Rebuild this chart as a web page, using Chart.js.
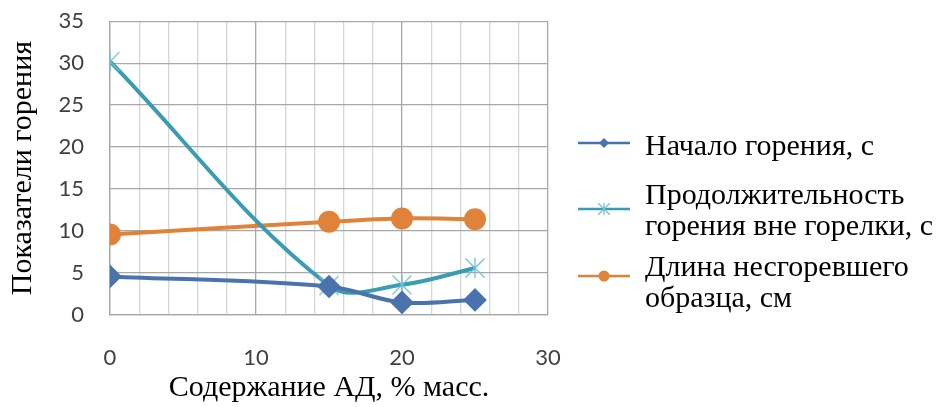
<!DOCTYPE html>
<html>
<head>
<meta charset="utf-8">
<script src="https://cdn.jsdelivr.net/npm/chart.js@4.4.1/dist/chart.umd.min.js"></script>
<style>
  html, body { margin: 0; padding: 0; background: #fff; }
  #wrap { width: 939px; height: 407px; position: relative; }
</style>
</head>
<body>
<div id="wrap"><canvas id="c" width="939" height="407"></canvas></div>
<script>
// Содержание АД, % масс.
const adContent = [0, 15, 20, 25];
// Начало горения, с
const ignitionStart = [4.6, 3.4, 1.5, 1.8];
// Продолжительность горения вне горелки, с
const burnDuration = [30.2, 3.5, 3.6, 5.6];
// Длина несгоревшего образца, см
const unburntLength = [9.6, 11.1, 11.5, 11.4];

const seriesNames = [
  ['Начало горения, с'],
  ['Продолжительность', 'горения вне горелки, с'],
  ['Длина несгоревшего', 'образца, см']
];
const xTicks = [0, 10, 20, 30];
const yTicks = [0, 5, 10, 15, 20, 25, 30, 35];

const BLUE = '#4A73AE';
const TEAL = '#3A9CB0';
const TEAL_MARK = '#74C1D2';
const ORANGE = '#E0823A';
const SERIF = '"Liberation Serif", "Times New Roman", serif';
const SANS = 'Lato, "Liberation Sans", sans-serif';
const TICK_COLOR = '#404040';

// asterisk marker: an X with a vertical stroke
function makeStar(r, color) {
  const c = document.createElement('canvas');
  c.width = c.height = r * 2 + 2;
  const g = c.getContext('2d');
  const m = r + 1;
  g.strokeStyle = color;
  g.lineWidth = 1.3;
  g.beginPath();
  const d = r * 0.95;
  g.moveTo(m - d, m - d); g.lineTo(m + d, m + d);
  g.moveTo(m + d, m - d); g.lineTo(m - d, m + d);
  g.moveTo(m, m - r); g.lineTo(m, m + r);
  g.stroke();
  return c;
}
const starImg = makeStar(10, TEAL_MARK);

const pts = vals => adContent.map((x, i) => ({ x: x, y: vals[i] }));

// legend on the right, drawn with wrapped labels
const sideLegend = {
  id: 'sideLegend',
  afterDraw(chart) {
    const ctx = chart.ctx;
    const rows = [
      { base: [155], lineY: 143 },
      { base: [204, 235], lineY: 209 },
      { base: [276, 307], lineY: 276 }
    ];
    ctx.save();
    chart.data.datasets.forEach((ds, i) => {
      const r = rows[i];
      ctx.strokeStyle = ds.borderColor;
      ctx.lineWidth = 2.5;
      ctx.beginPath();
      ctx.moveTo(578, r.lineY);
      ctx.lineTo(630, r.lineY);
      ctx.stroke();
      const cx = 604, cy = r.lineY;
      if (i === 0) {
        ctx.fillStyle = ds.pointBackgroundColor;
        ctx.beginPath();
        ctx.moveTo(cx - 5, cy); ctx.lineTo(cx, cy - 5);
        ctx.lineTo(cx + 5, cy); ctx.lineTo(cx, cy + 5);
        ctx.closePath(); ctx.fill();
      } else if (i === 1) {
        ctx.drawImage(makeStar(6, TEAL_MARK), cx - 7, cy - 7);
      } else {
        ctx.fillStyle = ds.pointBackgroundColor;
        ctx.beginPath(); ctx.arc(cx, cy, 5.5, 0, Math.PI * 2); ctx.fill();
      }
      ctx.fillStyle = '#000';
      ctx.font = '30px ' + SERIF;
      ctx.textBaseline = 'alphabetic';
      ctx.textAlign = 'left';
      seriesNames[i].forEach((t, k) => ctx.fillText(t, 645, r.base[k]));
    });
    ctx.restore();
  }
};

new Chart(document.getElementById('c'), {
  type: 'line',
  data: {
    datasets: [
      {
        label: seriesNames[0].join(' '),
        data: pts(ignitionStart),
        borderColor: BLUE,
        backgroundColor: BLUE,
        pointBackgroundColor: BLUE,
        pointBorderColor: BLUE,
        pointStyle: 'rectRot',
        pointRadius: 9,
        borderWidth: 4,
        tension: 0.36
      },
      {
        label: seriesNames[1].join(' '),
        data: pts(burnDuration),
        borderColor: TEAL,
        backgroundColor: TEAL,
        pointBackgroundColor: TEAL,
        pointStyle: starImg,
        borderWidth: 4,
        tension: 0.36
      },
      {
        label: seriesNames[2].join(' '),
        data: pts(unburntLength),
        borderColor: ORANGE,
        backgroundColor: ORANGE,
        pointBackgroundColor: ORANGE,
        pointBorderColor: ORANGE,
        pointStyle: 'circle',
        pointRadius: 9,
        borderWidth: 4,
        tension: 0.36
      }
    ]
  },
  options: {
    responsive: false,
    animation: false,
    events: [],
    layout: { padding: { left: 0, top: 21, right: 391, bottom: 0 } },
    plugins: { legend: { display: false }, tooltip: { enabled: false } },
    scales: {
      x: {
        type: 'linear',
        min: 0, max: 30,
        afterFit(s) { s.height = 92; },
        afterBuildTicks(s) {
          const t = [];
          for (let v = 0; v <= 30; v += 2) t.push({ value: v });
          s.ticks = t;
        },
        ticks: {
          autoSkip: false,
          maxRotation: 0,
          padding: 30,
          color: TICK_COLOR,
          font: { family: SANS, size: 22 },
          callback: v => (xTicks.includes(v) ? String(v) : '')
        },
        grid: {
          drawTicks: false,
          color: c => (c.tick && c.tick.value % 10 === 0 ? '#A8A8A8' : '#D6D6D6'),
          lineWidth: 1.3
        },
        border: { display: true, color: '#A8A8A8', width: 1.3 },
        title: {
          display: true,
          text: 'Содержание АД, % масс.',
          color: '#000',
          font: { family: SERIF, size: 30 },
          padding: { top: 0, bottom: 1 }
        }
      },
      y: {
        min: 0, max: 35,
        afterFit(s) { s.width = 110; },
        afterBuildTicks(s) { s.ticks = yTicks.map(v => ({ value: v })); },
        ticks: {
          padding: 8,
          color: TICK_COLOR,
          font: { family: SANS, size: 22 }
        },
        grid: {
          drawTicks: true,
          tickLength: 18,
          tickColor: 'rgba(0,0,0,0)',
          color: '#A8A8A8',
          lineWidth: 1.3
        },
        border: { display: true, color: '#A8A8A8', width: 1.3 },
        title: {
          display: true,
          text: 'Показатели горения',
          color: '#000',
          font: { family: SERIF, size: 30 },
          padding: { top: 5, bottom: 0 }
        }
      }
    }
  },
  plugins: [sideLegend]
});
</script>
</body>
</html>
